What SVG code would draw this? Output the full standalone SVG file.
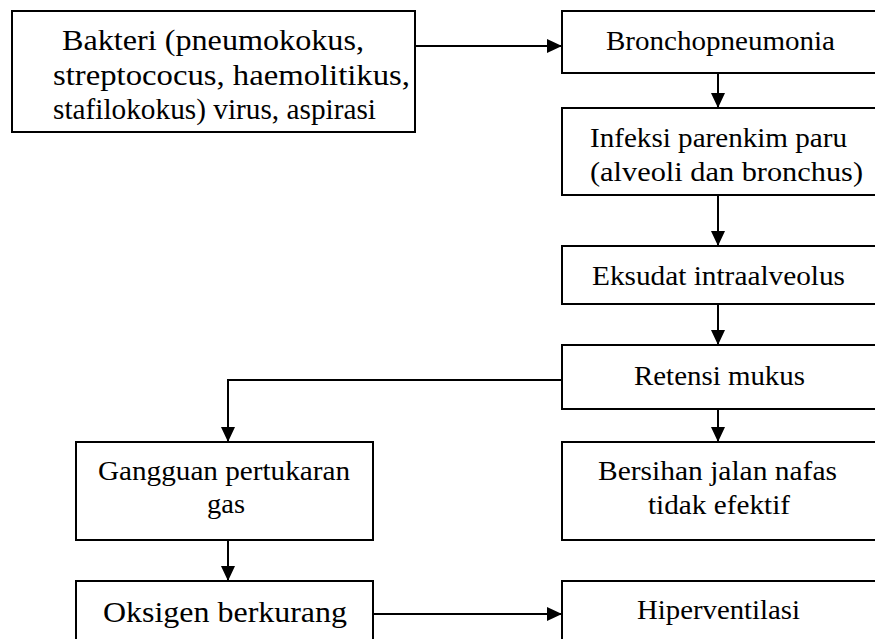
<svg xmlns="http://www.w3.org/2000/svg" width="875" height="639" viewBox="0 0 875 639">
<style>
.box{fill:#fff;stroke:#000;stroke-width:2}
.t{font-family:"Liberation Serif","Times New Roman",serif;font-size:26.5px;fill:#000}
.tl{font-size:28.5px}
.c{fill:none;stroke:#000;stroke-width:2}
</style>
<defs>
<marker id="ah" viewBox="0 0 15 14" refX="15" refY="7" markerWidth="15" markerHeight="14" markerUnits="userSpaceOnUse" orient="auto">
<path d="M0,0 L15,7 L0,14 z" fill="#000"/>
</marker>
</defs>
<rect width="875" height="639" fill="#fff"/>
<g id="connectors">
<path class="c" d="M415,46 H562" marker-end="url(#ah)"/>
<path class="c" d="M718,73 V108" marker-end="url(#ah)"/>
<path class="c" d="M718,195 V246" marker-end="url(#ah)"/>
<path class="c" d="M718,304 V345" marker-end="url(#ah)"/>
<path class="c" d="M562,380 H228 V442" marker-end="url(#ah)"/>
<path class="c" d="M718,409 V442" marker-end="url(#ah)"/>
<path class="c" d="M228,540 V581" marker-end="url(#ah)"/>
<path class="c" d="M373,614 H562" marker-end="url(#ah)"/>
</g>
<g id="bakteri">
<rect class="box" x="12" y="11" width="403" height="121"/>
<text class="t tl" x="62" y="50" textLength="302" lengthAdjust="spacingAndGlyphs">Bakteri (pneumokokus,</text>
<text class="t tl" x="53" y="85" textLength="357" lengthAdjust="spacingAndGlyphs">streptococus, haemolitikus,</text>
<text class="t tl" x="53" y="119" textLength="323" lengthAdjust="spacingAndGlyphs">stafilokokus) virus, aspirasi</text>
</g>
<g id="bronchopneumonia">
<rect class="box" x="562" y="11" width="320" height="62"/>
<text class="t" x="606" y="50" textLength="229" lengthAdjust="spacingAndGlyphs">Bronchopneumonia</text>
</g>
<g id="infeksi">
<rect class="box" x="562" y="108" width="320" height="87"/>
<text class="t" x="590" y="147" textLength="257" lengthAdjust="spacingAndGlyphs">Infeksi parenkim paru</text>
<text class="t" x="590" y="181" textLength="273" lengthAdjust="spacingAndGlyphs">(alveoli dan bronchus)</text>
</g>
<g id="eksudat">
<rect class="box" x="562" y="246" width="320" height="58"/>
<text class="t" x="592" y="285" textLength="253" lengthAdjust="spacingAndGlyphs">Eksudat intraalveolus</text>
</g>
<g id="retensi">
<rect class="box" x="562" y="345" width="320" height="64"/>
<text class="t" x="634" y="385" textLength="171" lengthAdjust="spacingAndGlyphs">Retensi mukus</text>
</g>
<g id="gangguan">
<rect class="box" x="76" y="442" width="297" height="98"/>
<text class="t" x="98" y="480" textLength="252" lengthAdjust="spacingAndGlyphs">Gangguan pertukaran</text>
<text class="t" x="207" y="513" textLength="38" lengthAdjust="spacingAndGlyphs">gas</text>
</g>
<g id="bersihan">
<rect class="box" x="562" y="442" width="320" height="98"/>
<text class="t" x="598" y="480" textLength="239" lengthAdjust="spacingAndGlyphs">Bersihan jalan nafas</text>
<text class="t" x="648" y="514" textLength="142" lengthAdjust="spacingAndGlyphs">tidak efektif</text>
</g>
<g id="oksigen">
<rect class="box" x="76" y="581" width="297" height="70"/>
<text class="t tl" x="103" y="622" textLength="244" lengthAdjust="spacingAndGlyphs">Oksigen berkurang</text>
</g>
<g id="hiperventilasi">
<rect class="box" x="562" y="581" width="320" height="70"/>
<text class="t" x="637" y="619" textLength="163" lengthAdjust="spacingAndGlyphs">Hiperventilasi</text>
</g>
</svg>
